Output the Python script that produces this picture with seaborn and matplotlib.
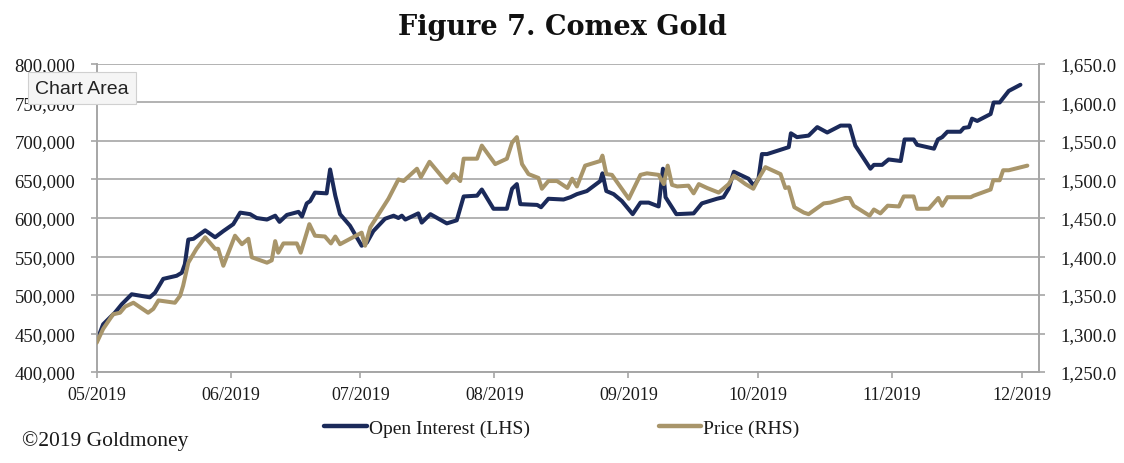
import matplotlib
matplotlib.use("Agg")
import matplotlib.pyplot as plt
import matplotlib.dates as mdates
import matplotlib.ticker as mtick
from matplotlib.lines import Line2D
import seaborn as sns
import pandas as pd
import numpy as np

START = pd.Timestamp("2019-05-01")

# days since 1 May 2019
oi_day = [0, 1.5, 4.2, 5.8, 8.1, 12.3, 13.5, 15.4, 18.5, 19.7, 20.4, 21.2, 22.4, 25.1, 27.4,
          29.3, 31.6, 33.2, 35.5, 37.0, 39.4, 41.3, 42.3, 44.0, 46.7, 47.5, 48.6, 49.4, 50.5,
          53.2, 54.0, 55.2, 56.3, 58.6, 61.3, 62.5, 64.0, 66.7, 68.7, 69.8, 70.6, 71.4, 74.4,
          75.2, 77.2, 81.0, 83.3, 84.9, 88.0, 89.1, 91.8, 94.9, 96.1, 97.2, 98.0, 101.9, 102.8,
          104.5, 108.0, 109.6, 111.1, 113.4, 116.5, 117.0, 117.9, 119.6, 121.5, 124.0, 125.8,
          127.7, 130.0, 131.0, 131.6, 134.1, 138.1, 140.0, 143.5, 145.0, 146.2, 147.4, 150.8,
          152.0, 153.1, 153.9, 155.1, 160.1, 160.6, 162.0, 164.7, 166.7, 169.0, 172.1, 174.2,
          175.5, 179.0, 179.8, 181.7, 183.2, 186.0, 186.9, 189.0, 189.8, 193.7, 194.6, 195.6,
          196.8, 199.8, 200.6, 201.8, 202.5, 203.7, 206.8, 207.5, 208.9, 211.0, 213.7]
oi_value = [440000, 462000, 477000, 488000, 501000, 497000, 503000, 521000, 525000, 529000,
            540000, 572000, 573000, 584000, 575000, 583000, 592000, 607000, 605000, 600000,
            598000, 603000, 595000, 604000, 608000, 602000, 619000, 622000, 633000, 632000,
            663000, 629000, 605000, 590000, 564000, 568000, 583000, 599000, 603000, 600000,
            603000, 598000, 606000, 594000, 605000, 593000, 597000, 628000, 629000, 637000,
            612000, 612000, 638000, 644000, 618000, 617000, 614000, 625000, 624000, 627000,
            631000, 635000, 648000, 658000, 635000, 631000, 622000, 605000, 620000, 620000,
            615000, 664000, 627000, 605000, 606000, 619000, 625000, 627000, 638000, 660000,
            651000, 642000, 651000, 683000, 683000, 692000, 710000, 705000, 707000, 718000,
            711000, 720000, 720000, 694000, 664000, 669000, 669000, 676000, 674000, 702000,
            702000, 695000, 690000, 702000, 705000, 712000, 712000, 717000, 718000, 729000,
            726000, 735000, 750000, 750000, 765000, 773000]

price_day = [0, 1.5, 3.8, 5.4, 6.6, 8.5, 11.9, 13.1, 14.3, 18.1, 19.3, 20.0, 21.2, 23.1, 25.1,
             27.4, 28.1, 29.3, 32.0, 33.6, 35.1, 35.9, 39.4, 40.5, 41.3, 42.0, 43.2, 46.3, 47.2,
             49.2, 50.5, 52.8, 54.2, 55.2, 56.3, 61.3, 62.1, 63.3, 67.5, 69.8, 71.0, 74.1, 75.0,
             77.0, 81.0, 82.6, 84.1, 84.9, 88.0, 89.1, 92.2, 94.9, 96.1, 97.2, 98.4, 99.9, 102.2,
             103.0, 104.5, 106.5, 108.9, 110.0, 111.1, 113.0, 116.5, 117.0, 117.9, 119.2, 123.1,
             125.8, 127.3, 130.0, 131.2, 132.1, 133.1, 134.3, 136.9, 138.1, 139.3, 141.2, 143.9,
             146.2, 147.4, 150.1, 151.9, 153.1, 154.7, 158.2, 159.3, 160.1, 161.4, 163.6, 164.7,
             168.2, 169.7, 173.2, 174.2, 175.1, 178.8, 179.8, 181.3, 183.0, 185.6, 186.7, 189.0,
             189.8, 192.5, 194.7, 195.6, 196.8, 202.2, 202.9, 206.8, 207.4, 208.9, 209.7, 211.0,
             215.3]
price_value = [1288, 1306, 1325, 1327, 1335, 1340, 1327, 1332, 1343, 1340, 1349, 1362, 1392,
               1410, 1425, 1410, 1410, 1388, 1427, 1416, 1423, 1399, 1392, 1395, 1420, 1405,
               1417, 1417, 1405, 1442, 1427, 1426, 1417, 1426, 1416, 1431, 1414, 1438, 1475,
               1500, 1498, 1514, 1503, 1523, 1496, 1507, 1498, 1527, 1527, 1544, 1520, 1527,
               1548, 1555, 1520, 1507, 1502, 1488, 1498, 1498, 1489, 1501, 1491, 1518, 1524,
               1531, 1507, 1506, 1475, 1506, 1508, 1506, 1494, 1518, 1493, 1491, 1492, 1482,
               1494, 1489, 1483, 1494, 1505, 1494, 1488, 1501, 1516, 1507, 1489, 1490, 1464,
               1457, 1455, 1469, 1470, 1476, 1476, 1466, 1453, 1461, 1456, 1466, 1465, 1478,
               1478, 1462, 1462, 1476, 1466, 1477, 1477, 1479, 1487, 1499, 1499, 1512, 1512,
               1518]

month_ticks = ["2019-05-01", "2019-06-01", "2019-07-01", "2019-08-01",
               "2019-09-01", "2019-10-01", "2019-11-01", "2019-12-01"]

NAVY = "#1B2A5A"
TAN = "#A8956A"
GREY = "#A6A6A6"
TXT = "#1A1A1A"

oi = pd.DataFrame({"date": START + pd.to_timedelta(oi_day, unit="D"), "value": oi_value})
px = pd.DataFrame({"date": START + pd.to_timedelta(price_day, unit="D"), "value": price_value})

sns.set_theme(style="white")
plt.rcParams["font.family"] = ["Liberation Serif", "DejaVu Serif"]

fig = plt.figure(figsize=(11.24, 4.64), dpi=100)
ax = fig.add_axes([0.086, 0.196, 0.9244 - 0.086, 0.86 - 0.196])
ax2 = ax.twinx()

sns.lineplot(data=oi, x="date", y="value", ax=ax, color=NAVY, lw=2.9, sort=False,
             estimator=None, zorder=3)
sns.lineplot(data=px, x="date", y="value", ax=ax2, color=TAN, lw=2.9, sort=False,
             estimator=None, zorder=3)

ax.set_xlim(START, START + pd.Timedelta(days=218))
ax.set_ylim(400000, 800000)
ax2.set_ylim(1250, 1650)
ax.set_yticks(np.arange(400000, 800001, 50000))
ax2.set_yticks(np.arange(1250, 1651, 50))
ax.yaxis.set_major_formatter(mtick.FuncFormatter(lambda v, p: f"{v:,.0f}"))
ax2.yaxis.set_major_formatter(mtick.FuncFormatter(lambda v, p: f"{v:,.1f}"))
ax.set_xticks(pd.to_datetime(month_ticks))
ax.xaxis.set_major_formatter(mdates.DateFormatter("%m/%Y"))

ax.grid(axis="y", color=GREY, lw=1.2)
ax.set_axisbelow(True)
ax.set_xlabel("")
ax.set_ylabel("")
ax2.set_ylabel("")

for a in (ax, ax2):
    for s in a.spines.values():
        s.set_color(GREY)
        s.set_linewidth(1.2)
    a.spines["top"].set_visible(False)
    a.tick_params(axis="both", length=4.3, width=1.2, color=GREY, labelsize=13.5,
                  labelcolor=TXT, pad=11)
ax.tick_params(axis="x", pad=6, labelsize=13)
ax.tick_params(left=True, bottom=True)
ax2.tick_params(right=True)

fig.text(0.5, 1 - 35 / 464, "Figure 7. Comex Gold", ha="center", va="baseline",
         fontsize=19.5, fontweight="bold", color="#111111", family="DejaVu Serif")

handles = [Line2D([], [], color=NAVY, lw=3.2), Line2D([], [], color=TAN, lw=3.2)]
fig.legend(handles, ["Open Interest (LHS)", "Price (RHS)"], loc="center",
           bbox_to_anchor=(0.5, 0.076), ncol=2, frameon=False, fontsize=14,
           handlelength=2.2, handletextpad=0.1, columnspacing=6.6, labelcolor=TXT)

fig.text(22 / 1124, 1 - 441 / 464, "\u00a92019 Goldmoney", ha="left", va="center",
         fontsize=15.5, color=TXT)

fig.text(35 / 1124, 1 - 89 / 464, "Chart Area", ha="left", va="center", fontsize=14,
         family=["Liberation Sans", "DejaVu Sans"], color="#222222",
         bbox=dict(boxstyle="square,pad=0.38", fc="#F5F5F5", ec="#D0D0D0", lw=0.8))

fig.savefig("out.png", dpi=100)
